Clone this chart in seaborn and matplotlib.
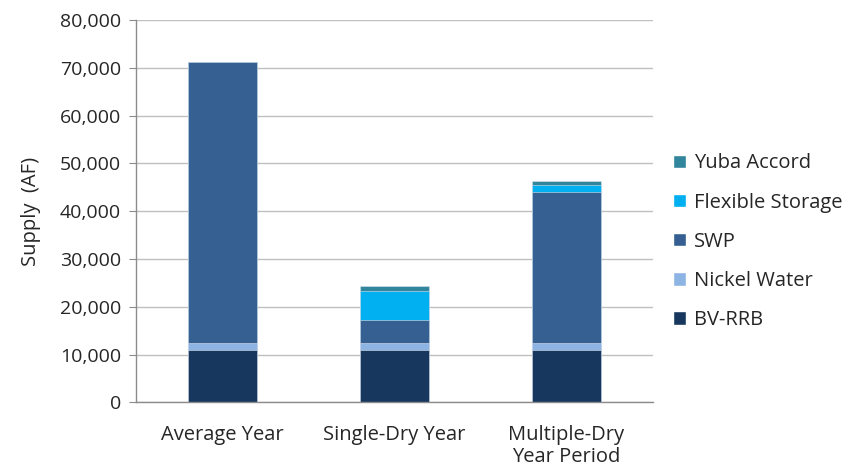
import matplotlib
matplotlib.use("Agg")
import matplotlib.pyplot as plt
import matplotlib.ticker as mticker
from matplotlib.patches import Patch
import numpy as np
import pandas as pd
import seaborn as sns

# Data (AF)
categories = ["Average Year", "Single-Dry Year", "Multiple-Dry\nYear Period"]
bv_rrb = [10900, 10900, 10900]
nickel_water = [1600, 1600, 1600]
swp = [58700, 4700, 31400]
flexible_storage = [0, 6100, 1600]
yuba_accord = [0, 1050, 900]

series_names = ["BV-RRB", "Nickel Water", "SWP", "Flexible Storage", "Yuba Accord"]
series_values = [bv_rrb, nickel_water, swp, flexible_storage, yuba_accord]
colors = ["#17375E", "#8EB4E3", "#376092", "#00B0F0", "#31859C"]

sns.set_style("white")
plt.rcParams["font.family"] = ["Open Sans", "DejaVu Sans"]

fig, ax = plt.subplots(figsize=(8.53, 4.75), dpi=100)
fig.subplots_adjust(left=0.16, right=0.765, top=0.958, bottom=0.153)

# stacked bars: draw cumulative totals from the top layer down
cum = np.cumsum(np.array(series_values), axis=0)
for i in range(len(series_names) - 1, -1, -1):
    df = pd.DataFrame({"cat": categories, "val": cum[i]})
    sns.barplot(data=df, x="cat", y="val", color=colors[i], width=0.4,
                saturation=1, edgecolor="#dde4ee", linewidth=0.4, ax=ax)

ax.set_ylim(0, 80000)
ax.set_xlim(-0.5, 2.5)
ax.yaxis.set_major_locator(mticker.MultipleLocator(10000))
ax.yaxis.set_major_formatter(mticker.StrMethodFormatter("{x:,.0f}"))
ax.yaxis.grid(True, color="#c0c0c0", linewidth=1)
ax.set_axisbelow(True)

for s in ["top", "right"]:
    ax.spines[s].set_visible(False)
for s in ["left", "bottom"]:
    ax.spines[s].set_color("#8c8c8c")
    ax.spines[s].set_linewidth(1)

ax.set_xticks([0, 1, 2])
ax.set_xticklabels(categories, fontsize=14.5, linespacing=1.15)
ax.set_xticks([-0.5, 0.5, 1.5, 2.5], minor=True)
ax.tick_params(axis="x", which="major", length=0, pad=16)
ax.tick_params(axis="x", which="minor", length=6, color="#8c8c8c", direction="out")
ax.tick_params(axis="y", length=5, color="#8c8c8c", direction="out", labelsize=14, left=True, pad=6)

ax.set_xlabel("")
ax.set_ylabel("Supply  (AF)", fontsize=14.5, labelpad=14)

handles = [Patch(facecolor=colors[i], label=series_names[i]) for i in range(len(series_names) - 1, -1, -1)]
ax.legend(handles=handles, loc="center left", bbox_to_anchor=(1.005, 0.42), frameon=False,
          fontsize=14.5, handlelength=0.65, handleheight=0.65, handletextpad=0.4, labelspacing=0.95)

fig.savefig("out.png", dpi=100)
